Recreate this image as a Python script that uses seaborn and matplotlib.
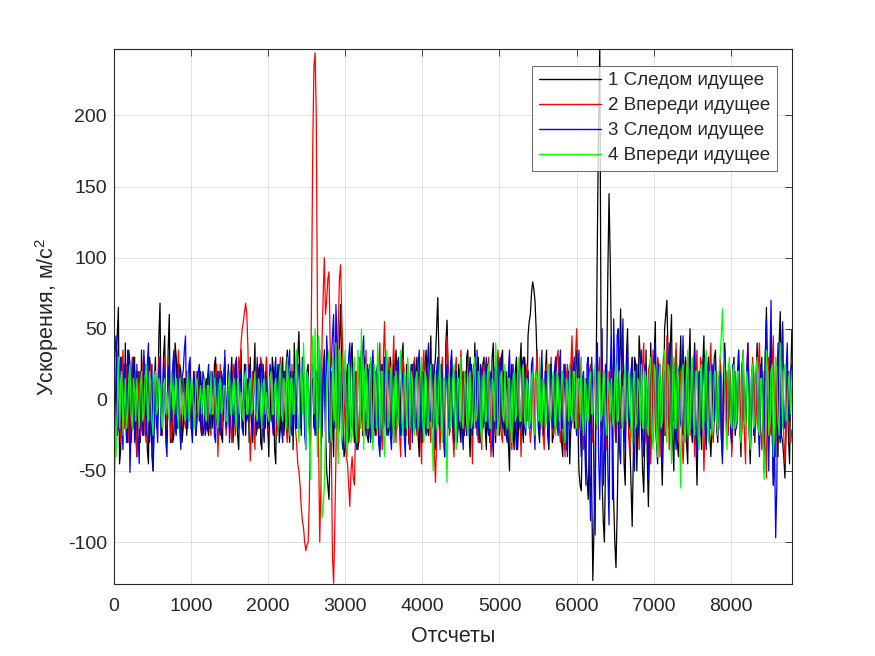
import numpy as np
import pandas as pd
import seaborn as sns
import matplotlib.pyplot as plt

# values every 30 samples (s*) and at the points in between (m*)
step = 15

s1 = [
    -88, 20, 65, -35, 10, 40, -30, 25, -15, 30,
    -40, 15, 35, -25, 5, -45, 20, -50, 30, -10,
    68, -20, 45, -30, 60, 5, -25, 30, -15, 20,
    -20, 15, -10, 25, -25, 10, 20, -15, 5, -20,
    15, -25, 20, -10, 30, -20, 10, -30, 25, 0,
    -20, 30, -15, 20, -35, 35, -10, -25, 15, 30,
    -30, 40, -20, 25, -35, 10, 30, -40, -15, 20,
    -45, 25, -20, 30, -10, 35, -30, 15, 40, -20,
    48, -25, 20, -10, 25, -30, 15, 30, -20, 10,
    -25, 35, -50, -70, 20, -40, 45, -15, 67, -10,
    -35, 25, -20, 40, -30, 15, -25, 35, -10, 20,
    -30, 15, 30, -25, 10, -35, 25, -15, 30, -20,
    20, -30, 35, -10, -25, 40, -20, 15, -35, 25,
    -15, 30, -40, 20, -10, 35, -25, 45, -20, 30,
    72, -30, 20, -40, 56, -15, 30, -35, 10, 25,
    -30, 20, -15, 35, -40, 15, 40, -25, 10, -20,
    30, -35, 20, -10, 40, -30, 15, -20, 35, -25,
    10, -50, 25, -35, 30, -15, 40, -30, 20, 45,
    60, 83, 70, 20, -30, 25, -20, 35, -35, 15,
    -25, 30, -15, 20, -40, 25, -10, -45, 30, -20,
    35, -50, -64, 15, -40, -70, 20, -127, -40, 120,
    246.6, -55, -100, 20, 145, 40, -70, -118, -30, 64,
    20, -60, 50, -30, -89, 30, -50, 45, -20, -65,
    35, -75, 40, -30, 55, -45, 25, -60, 50, 70,
    -20, 60, -50, 35, -40, 45, -25, 30, -45, 50,
    -30, 40, -60, 20, -35, 45, -25, 30, -40, 15,
    35, -30, 20, -40, 40, -25, 15, -35, 30, -15,
    25, -40, 35, -20, 30, -45, 20, -30, 40, -25,
    30, -50, 65, -35, 45, -60, 25, -40, 62, -30,
    -55, 20, -45, 49,
]
m1 = [
    -30, 45, -45, 30, -20, -25, 35, -30, 20, -25,
    20, -30, -20, 25, -35, 30, -40, 10, -20, 45,
    -25, 30, -15, 35, -30, -30, 40, -20, 25, -30,
    15, -25, 20, -20, 15, -25, 5, 20, -25, 10,
    -20, 15, -20, 25, -15, 20, -25, 15, -15, 20,
    15, -30, 25, -25, 15, -20, 25, 10, -30, -15,
    15, -25, 20, -30, 25, -20, -15, 15, 30, -35,
    15, -30, 20, -25, 25, -15, 20, -35, 10, 30,
    10, 30, -25, 20, -20, 15, -20, -25, 25, -30,
    20, -20, -60, -30, -15, 25, -20, 40, 20, -40,
    15, -30, 30, -15, 20, -35, 20, -25, 30, -25,
    25, -20, -15, 20, -30, 15, -20, 20, -25, 30,
    -20, 25, -20, 15, 30, -25, 25, -30, 15, -20,
    20, -25, 15, -30, 25, -20, 20, -15, 20, 50,
    30, 20, -25, 40, 20, 15, -20, 20, -30, -20,
    15, -25, 30, -20, 25, -20, 15, 30, -30, 25,
    -20, 25, -30, 30, -15, 25, -25, 30, -20, 20,
    -30, 15, -20, 20, -35, 25, -20, 30, -15, 55,
    75, 78, 50, -20, 15, -15, 20, -25, 20, -30,
    20, -20, 30, -30, 15, -35, 20, -20, 15, 25,
    -10, -60, -20, -25, -55, -30, -60, -90, 30, 200,
    60, -85, -40, 90, 100, -20, -100, -80, 20, 10,
    -45, 30, -25, -60, -40, 25, -15, 30, -50, -20,
    -40, -30, 10, 30, -30, 15, -30, -20, 60, 30,
    40, -30, 25, -30, 20, -20, 15, -30, 25, -20,
    15, -25, -20, -15, 25, -10, 20, -25, -15, 30,
    -20, 15, -25, 20, 10, -20, -15, 20, -25, 15,
    -15, 25, -20, 15, -20, -15, 20, 15, -20, 20,
    -20, 30, 10, 15, -20, -25, -15, 40, -25, -40,
    -20, -25, 15,
]

s2 = [
    25, -10, 20, -30, 35, -15, 10, -25, 30, -5,
    -40, 20, -20, 30, -30, 10, 25, -35, 15, -10,
    20, -25, 30, -15, 10, -30, 25, -5, 35, -20,
    15, -20, 10, 25, -15, 20, -10, 5, -25, 15,
    -10, 20, -25, 10, 15, -40, 25, -20, 30, -15,
    10, -30, 20, -15, 30, 40, 55, 68, 35, -43,
    20, -35, 15, -10, 25, -20, 30, -15, 10, -25,
    20, -10, 30, -25, 15, -30, 10, 25, 15, -30,
    -50, -75, -90, -106, -100, -10, 180, 244, 60, -100,
    40, 100, 70, 90, -30, -129, -40, 50, 95, 30,
    -20, -45, -75, -40, -60, 20, -30, 15, -25, 35,
    -20, 25, -30, 20, -10, 40, -35, 55, -15, 30,
    -25, 45, -30, 20, -40, 30, -15, 25, -35, 10,
    30, -25, 20, -45, 35, -20, 15, -30, 25, -58,
    20, -35, 30, -15, 45, -25, 10, -40, 30, -20,
    35, -30, 20, -10, 30, -45, 25, -20, 15, -35,
    25, -15, 30, -40, 20, -25, 35, -10, -30, 20,
    -20, 30, -35, 15, -10, 25, -40, 30, -15, 20,
    -30, 20, -25, 35, -20, 10, -35, 25, -15, 30,
    -25, 15, 35, -30, 20, -40, 25, -20, 45, -15,
    50, -20, 30, -35, 15, -10, 25, -30, 20, -15,
    30, -25, 10, -35, 20, -15, 25, -30, 15, -20,
    35, -25, 20, -40, 30, -15, 25, -35, 10, 40,
    -30, 20, -45, 35, -20, 30, -40, 15, -25, 45,
    -35, 25, -15, 40, -30, 20, -45, 10, 30, -25,
    20, -40, 35, -20, 25, -50, 30, -15, 40, -30,
    15, -25, 30, -35, 20, -10, 25, -40, 15, -20,
    35, -30, 20, -45, 40, -15, 30, -25, 10, 40,
    -35, 20, -55, 30, -25, 45, -40, 35, -30, 50,
    -45, 15, -30, -21,
]
m2 = [
    -20, 35, -15, 20, -20, 25, -30, 15, -20, 20,
    -15, -25, 25, -20, 15, -25, -10, 20, -20, 30,
    -10, 15, -20, 25, -25, 15, -20, 20, -15, 10,
    -15, 20, -15, -10, 15, -20, 15, -20, 10, -20,
    15, -20, 15, -20, 25, -15, -15, 20, -25, 20,
    -20, 25, -25, 10, 20, 50, 62, 60, -10, -20,
    -20, 25, -20, 30, -15, 15, -25, 20, -15, 15,
    -25, 15, -15, 20, -20, 20, -15, -10, -20, -45,
    -60, -85, -100, -102, -70, 80, 235, 200, -30, -60,
    75, 60, 85, 40, -110, -90, 10, 85, 60, 0,
    -40, -60, -50, -55, -20, -25, 20, -20, 15, -25,
    20, -25, 15, -25, 25, -20, 30, 20, 15, -20,
    20, -15, 25, -25, 15, 20, -25, -20, -15, 25,
    -15, 20, -25, 20, -15, 20, -20, 15, -35, -30,
    -15, 20, -25, 20, 15, -20, -25, 20, -15, 15,
    15, -15, -25, 20, -15, 10, 20, -30, -15, 20,
    15, 20, -15, -25, 20, 15, 20, -25, 15, -10,
    15, -20, -15, -20, 20, -15, 15, -20, 25, -15,
    -20, 15, 20, -15, -20, -25, 20, -20, 15, -15,
    -20, 30, -20, -15, -25, 15, -15, 25, 15, 30,
    25, 15, -20, -15, 15, 20, -20, 15, -20, 20,
    -20, -15, 25, -15, 15, 20, -20, -15, 20, 25,
    -15, 20, -25, 15, -20, 20, -15, 20, 25, -20,
    -15, 25, -20, 15, -30, 25, -20, 30, -15, 20,
    -20, 25, 15, -25, 20, -25, -20, 25, -15, 20,
    -15, 20, -20, 30, -15, -20, 15, 25, -20, -15,
    20, -20, 15, -15, 20, -25, 15, -20, 20, -15,
    15, -20, -25, 20, 15, -20, 15, -15, 25, -20,
    -15, -25, 20, -20, 25, -20, 25, -20, 30, -25,
    -20, 20, -30,
]

s3 = [
    15, 45, -20, 30, -35, 10, 35, -51, 20, -30,
    25, -45, 10, 35, -25, 40, -15, -50, 20, -30,
    30, -20, 15, -40, 25, -10, 35, -25, 10, -35,
    20, 45, -20, 30, -30, 10, -15, 25, -25, 15,
    -20, 25, -15, 10, -30, 20, -25, 15, 35, -10,
    -30, 20, -15, 30, -20, 10, -25, 25, -10, 20,
    -25, 15, 30, -20, 25, -30, 10, -15, 20, -25,
    30, -20, 15, -30, 20, -10, 35, -25, 15, -20,
    25, -15, 30, -35, 20, -10, 25, -25, 15, 35,
    -20, 30, 45, -30, 25, 60, 67, -25, 20, -35,
    25, -30, 40, -20, 15, -35, 30, -10, 45, -25,
    20, -30, 35, -15, 25, -40, 15, 30, -25, 20,
    -35, 25, -10, 30, -25, 15, -40, 20, 10, -30,
    25, -20, 35, -30, 15, -25, 40, -15, 20, -35,
    30, -20, 15, -40, 25, -10, 35, -30, 20, -15,
    25, -35, 15, -20, 30, -25, 10, 35, -30, 20,
    -15, 30, -25, 20, -40, 25, -10, 30, -20, 15,
    -30, 35, -20, 10, -35, 25, -15, 30, -25, 20,
    -20, 30, -35, 15, -25, 35, -10, 20, -30, 25,
    -15, 30, -25, 35, -20, 10, -40, 25, -15, 30,
    -25, 35, -40, 20, -60, 30, -85, 10, -95, 40,
    -70, 50, -40, 20, -88, 45, 57, -30, 50, -45,
    57, -35, 40, -20, 30, -50, 25, -15, 35, -40,
    20, -55, 30, -25, 40, -20, 15, -45, 35, -10,
    40, -30, 25, -35, 20, -15, 45, -30, 10, 30,
    -25, 35, -40, 20, -15, 30, -35, 25, -20, 15,
    30, -25, 20, -45, 35, -10, 25, -30, 15, -20,
    35, -30, 20, -15, 40, -35, 25, -20, 30, -40,
    20, -25, 57, -50, 70, -60, -97, 40, -30, 55,
    -20, 40, -15, 25,
]
m3 = [
    35, -25, 20, -20, 25, -30, 20, -20, 30, -20,
    -25, 20, -25, 15, 25, -30, 25, -20, -15, 20,
    -25, 25, -30, 20, -15, 25, -20, 25, -20, 15,
    35, -15, 25, -20, 20, -25, 20, -15, 20, -25,
    15, -20, 20, -25, 15, -20, 20, -15, -20, 25,
    15, -20, 25, -15, 20, -20, 15, -15, 25, -15,
    20, -20, -15, 25, -20, 20, -20, 25, -15, 20,
    -15, 25, -20, 20, -15, 25, -20, 20, -20, 25,
    -20, 20, -25, 15, -20, 25, -15, 20, -20, -15,
    20, -25, 25, 20, 45, -20, 40, -20, -25, 20,
    -20, 30, -15, 25, -25, 20, -20, 35, -15, 25,
    -20, 25, -20, 20, -30, 25, -20, -15, 20, -25,
    15, -20, 25, -15, 20, -25, 15, -20, 25, 15,
    -20, 25, -15, 20, -20, 25, -15, 25, -20, 20,
    -15, 25, -20, 15, -20, 25, -15, 20, -25, 20,
    -20, 15, -25, 20, -15, 25, -20, -15, 25, -20,
    20, -20, 15, -25, 20, -20, 25, -15, 20, -25,
    20, -15, 25, -20, 15, -20, 25, -20, 15, -20,
    25, -15, 20, -20, 15, -25, 20, -15, 25, -20,
    20, -15, 20, -20, 25, -20, 15, -20, 20, -15,
    20, -20, 15, -30, 25, -50, 30, -60, 20, -40,
    -20, -60, 25, -50, 20, -70, 20, 45, -35, 25,
    -20, 25, -15, 20, -30, 15, -25, 20, -25, 25,
    -20, 20, -15, 30, -25, 25, -15, 20, -25, 20,
    -15, 20, -20, 25, -20, 20, -15, 20, -20, -15,
    20, -20, 15, -25, 20, -20, 15, -20, 25, -15,
    -20, 15, -25, 20, -15, 20, -20, 25, -15, 20,
    -20, 25, -15, 20, -20, 15, -25, 15, -20, 25,
    -20, 30, -15, 25, -20, -30, -60, -20, 25, -15,
    20, -10, 20,
]

s4 = [
    20, -40, 30, 10, -25, 15, -10, 25, -20, 5,
    15, -20, 20, -10, 25, -15, 10, -25, 20, -5,
    10, -20, 15, 5, -15, 20, -10, 15, -20, 10,
    5, -15, 20, -5, 10, -20, 15, 0, -10, 15,
    -15, 10, 20, -10, 5, -20, 15, -5, 10, -15,
    20, -10, 15, -20, 10, 5, -15, 20, -10, 15,
    -5, 20, -15, 10, -20, 15, 5, -15, 20, -10,
    15, -20, 25, -15, 10, 30, -25, 15, -10, 35,
    -30, 20, 40, -35, 15, -56, 45, 50, -40, 30,
    -83, -60, 10, 35, -30, 20, 40, -45, 30, -20,
    35, -40, 20, -25, 30, -30, 15, 50, -35, 25,
    -20, 30, -35, 15, 40, -25, 20, -40, 35, -15,
    25, -30, 20, -15, 35, -25, 10, 30, -20, 15,
    -25, 20, -10, 30, -30, 15, -20, 25, -50, 20,
    -15, 25, -30, 15, -58, 20, -10, 25, -35, 15,
    30, -20, 10, -25, 20, -15, 30, -10, 15, -30,
    20, -15, 25, -20, 10, 40, -25, 15, -10, 25,
    -20, 15, -30, 20, -10, 30, -15, 25, -20, 10,
    -15, 20, -25, 15, 30, -20, 10, -15, 25, -10,
    20, -25, 15, -5, 20, -30, 10, 25, -15, 20,
    -20, 15, 30, -25, 10, -15, 20, -10, 25, -20,
    15, -10, 20, -25, 10, 15, -20, 25, -15, 10,
    -20, 25, -10, 15, -30, 20, -15, 10, 25, -20,
    15, -25, 30, -35, 20, -40, 25, -15, 35, -30,
    20, -45, 30, -20, 15, -62, 25, -30, 35, -20,
    30, -25, 20, -35, 25, -15, 35, -30, 20, -10,
    20, -25, 30, 64, 15, -35, 30, -20, 25, -15,
    20, -30, 35, -20, 10, -35, 25, -15, 30, -25,
    15, -56, 35, -25, 20, -40, 30, -15, 40, -20,
    25, -10, 20, 10,
]
m4 = [
    -15, -10, -20, 20, -5, -20, 15, -10, 15, -15,
    -5, 10, -15, 15, -10, 20, -15, 15, -10, 15,
    -10, 10, -10, -10, 10, -5, 10, -10, 15, -10,
    -10, 10, -15, 15, -10, 10, -10, 10, 5, -10,
    10, -10, -10, 15, -10, 10, -10, 10, -15, 10,
    -10, 10, -10, 15, -10, -10, 15, -10, 10, -10,
    10, -10, 15, -10, 10, -10, -10, 15, -10, 10,
    -10, 15, -10, 15, -20, 10, 15, -10, 20, -10,
    15, -10, 10, 20, -30, 20, -10, 10, 45, -40,
    -75, -20, 25, -20, 30, -15, -20, 35, -30, 20,
    -20, 25, -30, 20, -20, 35, -20, 15, 20, -20,
    15, -20, 25, -20, 15, 20, -25, 15, -20, 20,
    -15, 15, -20, 20, -15, 20, -20, 15, 20, -20,
    15, -20, 20, -15, 20, -20, 15, -20, 10, -20,
    15, -20, 15, -25, 10, -20, 15, -20, 15, -15,
    -15, 20, -15, 15, -20, 20, -15, 20, -20, 15,
    -15, 20, -20, 15, -15, 20, -15, 20, -15, -15,
    15, -20, 15, -15, 20, -15, 20, -15, 15, -20,
    15, -15, 20, -15, -15, 15, -20, 20, -15, 15,
    -15, 20, -15, 15, -20, 15, -15, -10, 20, -15,
    15, -10, -15, 15, -15, 15, -10, 20, -15, 20,
    -15, 20, -15, 15, -10, -15, 15, -15, 20, -15,
    15, -15, 20, -20, 15, -20, 15, -15, -20, 20,
    -20, 20, -15, 25, -25, 15, -20, 20, -20, 25,
    -20, 20, -20, 25, -30, 20, -20, 20, -25, 20,
    -15, 20, -25, 20, -20, 25, -20, 20, -25, 20,
    -15, 20, 45, 30, -20, 20, -15, 20, -20, 20,
    -20, 20, -15, 20, -20, 15, -20, 20, -20, 15,
    -20, -30, 20, -15, 25, -20, 20, -25, 15, 20,
    -15, 15, -10,
]

names = ['1 Следом идущее', '2 Впереди идущее', '3 Следом идущее', '4 Впереди идущее']
colors = ['#000000', '#ff0000', '#0000ff', '#00ff00']

frames = []
for name, main, mid in zip(names, [s1, s2, s3, s4], [m1, m2, m3, m4]):
    vals = np.empty(len(main) + len(mid))
    vals[0::2] = main
    vals[1::2] = mid
    frames.append(pd.DataFrame({'n': np.arange(len(vals)) * step, 'a': vals, 'series': name}))
df = pd.concat(frames, ignore_index=True)

sns.set_style('white')
plt.rcParams['font.family'] = ['Liberation Sans', 'DejaVu Sans']
plt.rcParams['mathtext.fontset'] = 'custom'
plt.rcParams['mathtext.rm'] = 'Liberation Sans'
plt.rcParams['mathtext.it'] = 'Liberation Sans'
plt.rcParams['axes.unicode_minus'] = False

fig = plt.figure(figsize=(8.75, 6.56), dpi=100)
ax = fig.add_axes([0.13, 0.11, 0.775, 0.815])

sns.lineplot(data=df, x='n', y='a', hue='series', hue_order=names,
             palette=dict(zip(names, colors)), estimator=None, sort=False,
             linewidth=0.9, ax=ax)

ax.set_xlim(0, 8790)
ax.set_ylim(-129.4, 246.6)
ax.set_xticks(np.arange(0, 8001, 1000))
ax.set_yticks([-100, -50, 0, 50, 100, 150, 200])
ax.grid(True, color='#262626', alpha=0.15, linewidth=0.6)
ax.tick_params(direction='in', length=5, width=0.6, labelsize=14,
               colors='#262626', top=True, right=True)
ax.tick_params(axis='x', pad=10)
ax.tick_params(axis='y', pad=5)
for sp in ax.spines.values():
    sp.set_color('#262626')
    sp.set_linewidth(0.8)

ax.set_xlabel('Отсчеты', fontsize=15.5, color='#262626', labelpad=8)
ax.set_ylabel('Ускорения, м/с$^2$', fontsize=15.5, color='#262626', labelpad=5)

leg = ax.legend(loc='upper right', bbox_to_anchor=(0.978, 0.969), fontsize=13.5,
                handlelength=3.3, frameon=True, fancybox=False, borderaxespad=0,
                labelspacing=0.42, handletextpad=0.4, borderpad=0.35)
leg.get_frame().set_edgecolor('#262626')
leg.get_frame().set_linewidth(0.6)
for line in leg.get_lines():
    line.set_linewidth(1.0)

fig.savefig('out.png', dpi=100, facecolor='white')
